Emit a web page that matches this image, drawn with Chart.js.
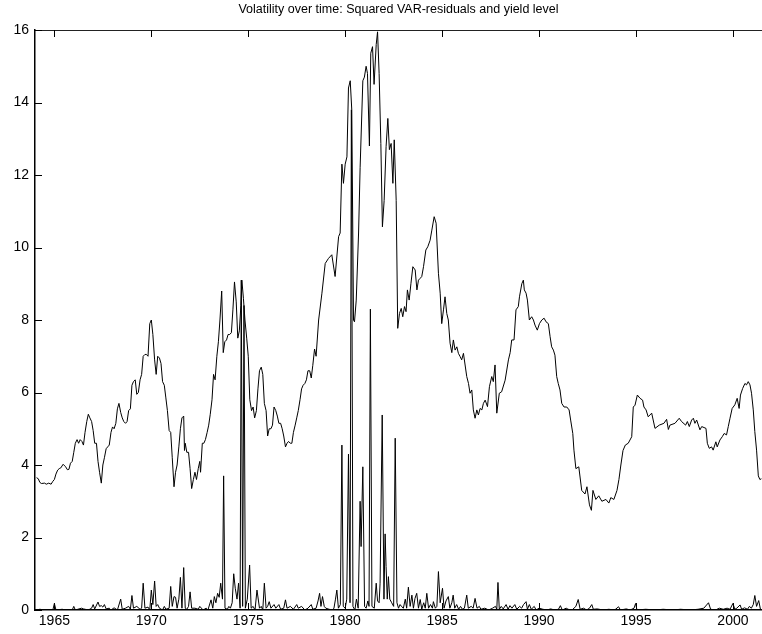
<!DOCTYPE html>
<html lang="en">
<head>
  <meta charset="UTF-8" />
  <title>Volatility over time</title>
  <script src="https://cdn.jsdelivr.net/npm/chart.js"></script>
  <style>
    html, body { margin: 0; padding: 0; background: #fff; }
    canvas { display: block; }
  </style>
</head>
<body>
  <canvas id="chart" width="762" height="634"></canvas>
  <script>
    // yield level (decimal years)
    const yieldYears = [
      1964.08,1964.17,1964.25,1964.33,1964.5,1964.58,1964.71,1964.83,1964.92,1965.0,
      1965.08,1965.17,1965.25,1965.33,1965.45,1965.58,1965.67,1965.75,1965.83,1965.92,
      1966.0,1966.08,1966.17,1966.25,1966.33,1966.42,1966.5,1966.58,1966.67,1966.75,
      1966.83,1966.92,1967.0,1967.08,1967.17,1967.25,1967.33,1967.42,1967.5,1967.58,
      1967.67,1967.75,1967.83,1967.92,1968.0,1968.08,1968.17,1968.25,1968.33,1968.42,
      1968.5,1968.58,1968.67,1968.75,1968.83,1968.92,1969.0,1969.08,1969.17,1969.25,
      1969.33,1969.42,1969.5,1969.58,1969.67,1969.75,1969.83,1969.92,1970.0,1970.08,
      1970.17,1970.25,1970.33,1970.42,1970.5,1970.58,1970.67,1970.75,1970.83,1970.92,
      1971.0,1971.08,1971.17,1971.25,1971.33,1971.42,1971.5,1971.58,1971.67,1971.71,
      1971.75,1971.83,1971.92,1972.0,1972.08,1972.17,1972.25,1972.33,1972.42,1972.5,
      1972.54,1972.63,1972.71,1972.79,1972.88,1972.96,1973.04,1973.13,1973.21,1973.29,
      1973.38,1973.46,1973.54,1973.63,1973.71,1973.79,1973.88,1973.96,1974.04,1974.13,
      1974.21,1974.29,1974.38,1974.46,1974.54,1974.62,1974.67,1974.75,1974.83,1974.92,
      1975.0,1975.08,1975.17,1975.25,1975.33,1975.42,1975.5,1975.58,1975.67,1975.75,
      1975.83,1975.92,1976.0,1976.08,1976.17,1976.25,1976.33,1976.42,1976.5,1976.58,
      1976.67,1976.75,1976.83,1976.92,1977.0,1977.08,1977.17,1977.25,1977.33,1977.42,
      1977.5,1977.58,1977.67,1977.75,1977.83,1977.92,1978.0,1978.08,1978.17,1978.25,
      1978.33,1978.42,1978.5,1978.63,1978.8,1978.97,1979.14,1979.31,1979.48,1979.66,
      1979.74,1979.83,1979.91,1980.0,1980.09,1980.17,1980.26,1980.34,1980.43,1980.48,
      1980.57,1980.69,1980.77,1980.91,1980.99,1981.08,1981.15,1981.25,1981.32,1981.41,
      1981.49,1981.6,1981.67,1981.75,1981.84,1981.92,1982.01,1982.11,1982.2,1982.28,
      1982.37,1982.46,1982.53,1982.63,1982.71,1982.8,1982.89,1982.97,1983.06,1983.14,
      1983.21,1983.3,1983.39,1983.49,1983.61,1983.7,1983.78,1983.87,1983.95,1984.04,
      1984.16,1984.26,1984.38,1984.47,1984.59,1984.69,1984.81,1984.9,1984.98,1985.07,
      1985.15,1985.24,1985.32,1985.41,1985.5,1985.58,1985.67,1985.76,1985.84,1985.93,
      1986.01,1986.1,1986.27,1986.36,1986.44,1986.53,1986.61,1986.7,1986.79,1986.87,
      1986.96,1987.05,1987.13,1987.22,1987.34,1987.44,1987.56,1987.64,1987.73,1987.82,
      1987.95,1988.07,1988.25,1988.42,1988.51,1988.59,1988.71,1988.81,1988.93,1988.99,
      1989.11,1989.19,1989.24,1989.33,1989.4,1989.5,1989.62,1989.71,1989.79,1989.91,
      1990.02,1990.14,1990.26,1990.36,1990.48,1990.57,1990.65,1990.74,1990.82,1990.91,
      1990.99,1991.08,1991.17,1991.29,1991.43,1991.55,1991.63,1991.74,1991.8,1991.9,
      1992.05,1992.2,1992.37,1992.47,1992.6,1992.7,1992.78,1992.93,1993.08,1993.24,
      1993.45,1993.6,1993.7,1993.86,1994.02,1994.12,1994.22,1994.33,1994.45,1994.6,
      1994.78,1994.86,1994.95,1995.07,1995.21,1995.34,1995.41,1995.52,1995.63,1995.81,
      1995.98,1996.2,1996.44,1996.58,1996.67,1996.75,1997.01,1997.23,1997.35,1997.56,
      1997.65,1997.75,1997.87,1997.96,1998.04,1998.13,1998.3,1998.39,1998.61,1998.68,
      1998.78,1998.9,1998.98,1999.12,1999.19,1999.33,1999.45,1999.55,1999.67,1999.76,
      1999.85,1999.96,2000.1,2000.22,2000.32,2000.39,2000.5,2000.62,2000.7,2000.79,
      2000.88,2000.96,2001.05,2001.13,2001.22,2001.31,2001.39,2001.47
    ];
    const yieldLevel = [
      3.65,3.62,3.52,3.49,3.5,3.47,3.5,3.47,3.55,3.6,
      3.75,3.86,3.9,3.92,4.02,3.95,3.87,3.88,4.05,4.1,
      4.35,4.6,4.7,4.6,4.7,4.65,4.55,4.9,5.2,5.4,
      5.3,5.2,4.95,4.6,4.6,4.1,3.8,3.5,4.0,4.2,
      4.45,4.5,4.55,4.9,5.05,5.0,5.15,5.55,5.7,5.45,
      5.3,5.2,5.15,5.2,5.5,5.55,6.2,6.3,6.35,5.95,
      6.0,6.35,6.5,7.0,7.05,7.05,7.0,7.9,8.0,7.6,
      6.9,6.5,7.0,6.95,6.8,6.3,6.2,5.85,5.5,4.95,
      4.9,4.2,3.4,3.8,4.0,4.5,5.0,5.3,5.35,4.4,
      4.6,4.35,4.35,3.9,3.35,3.6,3.8,3.6,3.9,4.1,
      3.8,4.6,4.6,4.7,4.9,5.1,5.4,5.8,6.5,6.35,
      7.0,7.4,8.0,8.8,7.1,7.4,7.45,7.6,7.6,7.65,
      8.3,9.05,8.5,7.5,7.7,8.4,9.1,8.6,8.0,7.5,
      7.0,5.8,5.5,5.6,5.3,5.5,6.1,6.6,6.7,6.5,
      5.7,5.5,4.8,5.0,5.0,5.1,5.6,5.5,5.35,5.15,
      5.15,5.0,4.8,4.5,4.6,4.65,4.6,4.6,4.9,5.1,
      5.3,5.5,5.8,6.1,6.2,6.25,6.35,6.6,6.6,6.4,
      6.75,7.2,7.0,8.0,8.74,9.56,9.7,9.8,9.2,10.3,
      10.4,12.3,11.77,12.3,12.5,14.4,14.6,13.8,8.0,7.95,
      8.55,10.4,12.2,14.6,14.7,15.0,14.8,12.8,15.36,15.54,
      14.5,15.6,15.95,14.8,12.87,10.57,11.3,12.78,13.56,12.7,
      12.87,11.77,12.97,11.3,7.77,8.18,8.32,8.09,8.37,8.23,
      8.83,8.55,9.0,9.47,9.38,8.83,9.1,9.15,9.2,9.47,
      9.93,10.02,10.2,10.48,10.85,10.67,9.29,8.74,7.9,8.28,
      8.64,8.18,8.0,7.36,7.1,7.45,7.17,7.26,7.08,6.99,
      6.9,7.08,6.44,6.25,5.98,6.07,5.52,5.29,5.52,5.38,
      5.56,5.52,5.7,5.79,5.61,6.16,6.44,6.3,6.76,5.43,
      5.98,6.02,6.34,6.9,7.1,7.45,7.45,8.28,8.37,8.64,
      9.0,9.1,8.83,8.74,8.55,8.0,8.09,8.0,7.86,7.72,
      7.9,8.0,8.05,7.95,7.9,7.54,7.26,7.17,7.03,6.44,
      6.25,6.07,5.7,5.6,5.6,5.52,5.24,4.87,4.41,3.9,
      3.95,3.3,3.2,3.4,2.9,2.75,3.3,3.05,3.15,3.0,
      3.05,2.95,3.1,3.05,3.3,3.6,4.0,4.4,4.55,4.6,
      4.78,5.6,5.65,5.93,5.84,5.79,5.6,5.52,5.33,5.43,
      5.01,5.1,5.15,5.26,4.98,5.1,5.15,5.29,5.2,5.1,
      5.2,5.06,5.24,5.29,5.15,5.24,4.97,5.06,5.01,4.6,
      4.46,4.5,4.41,4.64,4.5,4.69,4.78,4.87,4.83,5.06,
      5.29,5.56,5.66,5.84,5.56,5.93,6.11,6.25,6.21,6.3,
      6.21,5.98,5.52,4.92,4.41,3.7,3.6,3.62
    ];

    // squared VAR residuals
    const residYears = [
      1964.08,1964.25,1964.5,1964.83,1964.92,1965.0,1965.08,1965.4,1965.6,1965.92,
      1966.0,1966.08,1966.4,1966.5,1966.75,1966.92,1967.0,1967.08,1967.25,1967.33,
      1967.42,1967.5,1967.58,1967.67,1967.83,1967.92,1968.08,1968.25,1968.42,1968.5,
      1968.67,1968.83,1968.92,1969.0,1969.08,1969.25,1969.42,1969.5,1969.58,1969.67,
      1969.83,1969.92,1970.0,1970.08,1970.17,1970.25,1970.33,1970.42,1970.58,1970.67,
      1970.75,1970.92,1971.0,1971.08,1971.17,1971.25,1971.33,1971.42,1971.5,1971.58,
      1971.67,1971.75,1971.83,1971.92,1972.0,1972.08,1972.25,1972.42,1972.5,1972.67,
      1972.83,1972.92,1973.08,1973.17,1973.25,1973.33,1973.42,1973.5,1973.58,1973.67,
      1973.73,1973.8,1973.92,1974.0,1974.08,1974.17,1974.25,1974.33,1974.42,1974.5,
      1974.58,1974.64,1974.71,1974.78,1974.85,1974.95,1975.07,1975.15,1975.25,1975.35,
      1975.45,1975.58,1975.67,1975.75,1975.83,1975.92,1976.0,1976.08,1976.17,1976.33,
      1976.42,1976.58,1976.67,1976.83,1976.92,1977.0,1977.17,1977.33,1977.5,1977.58,
      1977.75,1977.92,1978.08,1978.25,1978.33,1978.5,1978.6,1978.68,1978.75,1978.83,
      1978.92,1979.0,1979.17,1979.33,1979.42,1979.5,1979.57,1979.65,1979.75,1979.83,
      1979.9,1980.0,1980.08,1980.17,1980.25,1980.32,1980.4,1980.5,1980.58,1980.67,
      1980.77,1980.82,1980.91,1981.0,1981.08,1981.17,1981.23,1981.3,1981.38,1981.5,
      1981.6,1981.67,1981.75,1981.8,1981.91,1982.0,1982.06,1982.11,1982.17,1982.23,
      1982.3,1982.4,1982.5,1982.58,1982.67,1982.75,1982.83,1982.92,1983.0,1983.1,
      1983.17,1983.26,1983.35,1983.44,1983.52,1983.6,1983.69,1983.78,1983.87,1983.95,
      1984.05,1984.13,1984.21,1984.3,1984.4,1984.5,1984.55,1984.65,1984.73,1984.81,
      1984.9,1985.02,1985.1,1985.2,1985.32,1985.4,1985.5,1985.57,1985.65,1985.75,
      1985.85,1985.95,1986.05,1986.15,1986.27,1986.35,1986.5,1986.6,1986.7,1986.8,
      1986.92,1987.0,1987.2,1987.4,1987.6,1987.75,1987.82,1987.88,1987.95,1988.05,
      1988.15,1988.3,1988.4,1988.5,1988.6,1988.75,1988.85,1989.0,1989.1,1989.2,
      1989.33,1989.4,1989.5,1989.6,1989.75,1989.85,1990.0,1990.2,1990.4,1990.6,
      1990.8,1991.0,1991.1,1991.2,1991.4,1991.5,1991.7,1991.9,1992.02,1992.12,
      1992.3,1992.45,1992.6,1992.72,1992.8,1993.0,1993.3,1993.6,1993.9,1994.1,
      1994.2,1994.5,1994.7,1994.9,1994.98,1995.05,1995.5,1996.0,1996.4,1996.9,
      1997.3,1997.8,1998.2,1998.5,1998.74,1998.85,1999.1,1999.3,1999.5,1999.7,
      1999.85,2000.0,2000.1,2000.2,2000.37,2000.45,2000.6,2000.75,2000.85,2000.95,
      2001.05,2001.13,2001.22,2001.33,2001.42,2001.47
    ];
    const residSq = [
      0.0,0.02,0.0,0.01,0.0,0.18,0.0,0.02,0.0,0.0,
      0.1,0.0,0.05,0.03,0.0,0.05,0.15,0.03,0.22,0.1,
      0.12,0.08,0.15,0.03,0.05,0.0,0.06,0.0,0.3,0.02,
      0.05,0.1,0.02,0.4,0.05,0.1,0.02,0.05,0.74,0.05,
      0.08,0.0,0.55,0.15,0.8,0.1,0.15,0.05,0.0,0.1,
      0.02,0.05,0.65,0.1,0.37,0.35,0.05,0.3,0.9,0.05,
      1.17,0.05,0.02,0.1,0.5,0.05,0.05,0.02,0.1,0.0,
      0.05,0.0,0.28,0.05,0.37,0.2,0.46,0.35,0.74,0.3,
      3.7,0.05,0.02,0.1,0.05,0.2,1.0,0.6,0.3,0.74,
      0.05,9.1,0.1,8.4,0.05,0.3,1.24,0.05,0.1,0.0,
      0.55,0.05,0.1,0.0,0.74,0.05,0.1,0.23,0.05,0.15,
      0.05,0.15,0.02,0.05,0.28,0.05,0.1,0.02,0.15,0.05,
      0.1,0.0,0.05,0.15,0.02,0.05,0.25,0.46,0.1,0.37,
      0.1,0.05,0.02,0.0,0.05,0.3,0.55,0.05,0.15,4.55,
      0.1,0.05,0.3,4.3,0.2,13.8,0.1,0.0,0.3,0.05,
      3.0,1.75,3.95,0.1,0.05,0.25,0.1,8.3,0.1,0.05,
      0.74,0.25,0.2,0.74,5.38,0.3,2.1,1.2,0.3,0.92,
      0.3,0.2,0.1,4.74,0.2,0.05,0.15,0.09,0.05,0.3,
      0.05,0.63,0.1,0.41,0.05,0.32,0.46,0.05,0.29,0.02,
      0.2,0.05,0.46,0.05,0.15,0.05,0.23,0.05,0.1,1.06,
      0.2,0.6,0.05,0.25,0.37,0.05,0.2,0.41,0.05,0.15,
      0.02,0.1,0.02,0.05,0.41,0.05,0.1,0.05,0.32,0.05,
      0.1,0.02,0.05,0.0,0.05,0.1,0.02,0.76,0.02,0.1,
      0.03,0.15,0.02,0.12,0.05,0.15,0.02,0.1,0.05,0.15,
      0.23,0.02,0.15,0.02,0.1,0.0,0.05,0.02,0.0,0.03,
      0.0,0.02,0.12,0.0,0.05,0.02,0.0,0.1,0.29,0.02,
      0.05,0.0,0.05,0.15,0.02,0.03,0.0,0.02,0.0,0.09,
      0.0,0.03,0.0,0.05,0.18,0.0,0.02,0.0,0.02,0.0,
      0.02,0.0,0.02,0.05,0.2,0.02,0.0,0.05,0.02,0.05,
      0.02,0.18,0.02,0.05,0.14,0.02,0.06,0.02,0.1,0.05,
      0.15,0.4,0.1,0.26,0.02,0.0
    ];

    const xTicks = [1965, 1970, 1975, 1980, 1985, 1990, 1995, 2000];
    const yTicks = [0, 2, 4, 6, 8, 10, 12, 14, 16];

    const toPoints = (xs, ys) => xs.map((x, i) => ({ x: x, y: ys[i] }));

    // matlab style: tick marks pointing into the axes
    const inwardTicks = {
      id: 'inwardTicks',
      afterDatasetsDraw(chart) {
        const { ctx, chartArea: a, scales: { x, y } } = chart;
        ctx.save();
        ctx.strokeStyle = '#000';
        ctx.lineWidth = 1;
        ctx.beginPath();
        yTicks.forEach(v => {
          const py = Math.round(y.getPixelForValue(v)) + 0.5;
          ctx.moveTo(a.left, py);
          ctx.lineTo(a.left + 7, py);
        });
        xTicks.forEach(v => {
          const px = Math.round(x.getPixelForValue(v)) + 0.5;
          ctx.moveTo(px, a.bottom);
          ctx.lineTo(px, a.bottom - 7);
          ctx.moveTo(px, a.top);
          ctx.lineTo(px, a.top + 7);
        });
        ctx.stroke();
        ctx.restore();
      }
    };

    const font = { family: "'Liberation Sans', Arial, sans-serif", size: 14 };

    new Chart(document.getElementById('chart').getContext('2d'), {
      type: 'line',
      data: {
        datasets: [
          {
            label: 'Yield level',
            data: toPoints(yieldYears, yieldLevel),
            borderColor: '#000',
            borderWidth: 1,
            pointRadius: 0,
            tension: 0,
            fill: false
          },
          {
            label: 'Squared VAR-residuals',
            data: toPoints(residYears, residSq),
            borderColor: '#000',
            borderWidth: 1,
            pointRadius: 0,
            tension: 0,
            fill: false
          }
        ]
      },
      options: {
        responsive: false,
        animation: false,
        devicePixelRatio: 1,
        layout: { padding: 0 },
        plugins: {
          legend: { display: false },
          tooltip: { enabled: false },
          title: {
            display: true,
            fullSize: false,
            text: 'Volatility over time: Squared VAR-residuals and yield level',
            color: '#000',
            font: { family: font.family, size: 12.5, weight: 'normal' },
            padding: { top: 2, bottom: 13 }
          }
        },
        scales: {
          x: {
            type: 'linear',
            position: 'bottom',
            min: 1964,
            max: 2001.5,
            afterBuildTicks: s => { s.ticks = xTicks.map(v => ({ value: v })); },
            afterFit: s => { s.height = 24; },
            ticks: {
              color: '#000',
              font: font,
              padding: 3,
              maxRotation: 0,
              callback: v => String(v)
            },
            grid: { display: false, drawTicks: false },
            border: { display: true, color: '#000', width: 1.5 }
          },
          xTop: {
            type: 'linear',
            position: 'top',
            min: 1964,
            max: 2001.5,
            afterFit: s => { s.height = 0; },
            ticks: { display: false },
            grid: { display: false, drawTicks: false },
            border: { display: true, color: '#222', width: 1 }
          },
          y: {
            min: 0,
            max: 16,
            afterBuildTicks: s => { s.ticks = yTicks.map(v => ({ value: v })); },
            afterFit: s => { s.width = 35; },
            ticks: { color: '#000', font: font, padding: 6 },
            grid: { display: false, drawTicks: false },
            border: { display: true, color: '#000', width: 1.5 }
          }
        }
      },
      plugins: [inwardTicks]
    });
  </script>
</body>
</html>
